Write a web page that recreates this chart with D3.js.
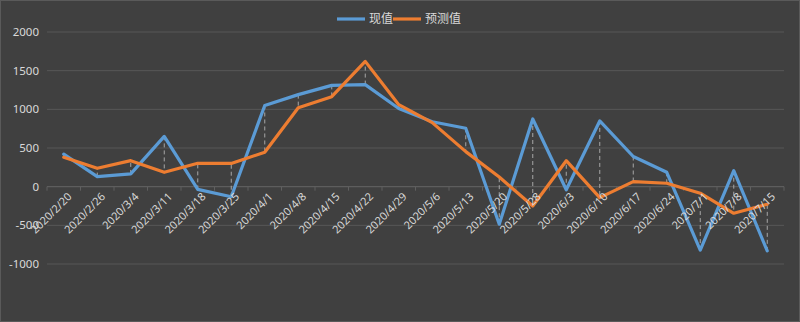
<!DOCTYPE html>
<html><head><meta charset="utf-8">
<script src="https://cdn.jsdelivr.net/npm/d3@7/dist/d3.min.js"></script>
<style>body{margin:0;background:#404040;}svg{display:block;}</style>
</head><body>
<script>
const categories = ["2020/2/20","2020/2/26","2020/3/4","2020/3/11","2020/3/18","2020/3/25","2020/4/1","2020/4/8","2020/4/15","2020/4/22","2020/4/29","2020/5/6","2020/5/13","2020/5/20","2020/5/28","2020/6/3","2020/6/10","2020/6/17","2020/6/24","2020/7/1","2020/7/8","2020/7/15"];
const actual = [420,130,165,650,-35,-130,1050,1190,1310,1320,1010,840,755,-485,875,-40,850,390,186,-820,207,-830];
const forecast = [380,238,336,186,302,300,445,1020,1164,1620,1060,828,453,125,-250,336,-142,65,44,-85,-344,-228];
const yTicks = [-1000,-500,0,500,1000,1500,2000];
const seriesNames = ["现值","预测值"];
const colors = ["#5b9bd5","#ed7d31"];

const W=800,H=322;
const svg=d3.select("body").append("svg").attr("width",W).attr("height",H);
svg.append("rect").attr("x",0.5).attr("y",0.5).attr("width",W-1).attr("height",H-1).attr("fill","#404040").attr("stroke","#5a5a5a");

const x=d3.scaleBand().domain(categories).range([47,784]);
const y=d3.scaleLinear().domain([-1000,2000]).range([264,32]);
const font="'Noto Sans', 'Liberation Sans', sans-serif";

// gridlines
svg.append("g").selectAll("line").data(yTicks).join("line")
 .attr("x1",47).attr("x2",784).attr("y1",d=>y(d)).attr("y2",d=>y(d))
 .attr("stroke","#575757").attr("stroke-width",1);

// y labels
svg.append("g").selectAll("text").data(yTicks).join("text")
 .attr("x",39).attr("y",d=>y(d)).attr("dy","0.35em").attr("text-anchor","end")
 .attr("fill","#d9d9d9").attr("font-family",font).attr("font-size",11.5).text(d=>d);

// x axis at 0
const xg=svg.append("g").attr("transform",`translate(0,${y(0)})`);
xg.append("line").attr("x1",47).attr("x2",784).attr("stroke","#5f5f5f");
const tickPos=categories.map(c=>x(c)).concat([784]);
xg.selectAll("line.t").data(tickPos).join("line").attr("class","t")
 .attr("x1",d=>d).attr("x2",d=>d).attr("y1",0).attr("y2",4).attr("stroke","#5f5f5f");

// drop lines
const cx=c=>x(c)+x.bandwidth()/2;
svg.append("g").selectAll("line").data(categories).join("line")
 .attr("x1",cx).attr("x2",cx)
 .attr("y1",(c,i)=>y(actual[i])).attr("y2",(c,i)=>y(forecast[i]))
 .attr("stroke","#a6a6a6").attr("stroke-width",1).attr("stroke-dasharray","4,3");

// lines
const line=d3.line().x((d,i)=>cx(categories[i])).y(d=>y(d));
[actual,forecast].forEach((s,k)=>{
 svg.append("path").datum(s).attr("d",line).attr("fill","none")
  .attr("stroke",colors[k]).attr("stroke-width",3.2).attr("stroke-linejoin","round").attr("stroke-linecap","round");
});

// x labels
svg.append("g").selectAll("text").data(categories).join("text")
 .attr("transform",c=>`translate(${cx(c)+6},${y(0)+8}) rotate(-45)`)
 .attr("text-anchor","end").attr("fill","#d9d9d9").attr("font-family",font).attr("font-size",11)
 .attr("dy","0.35em")
 .text(c=>c);

// legend
const leg=[{x:337,name:seriesNames[0],c:colors[0]},{x:393,name:seriesNames[1],c:colors[1]}];
leg.forEach(l=>{
 svg.append("line").attr("x1",l.x).attr("x2",l.x+28).attr("y1",19).attr("y2",19).attr("stroke",l.c).attr("stroke-width",3.2);
 svg.append("text").attr("x",l.x+32).attr("y",19).attr("dy","0.35em").attr("fill","#d9d9d9")
  .attr("font-family","'Noto Sans CJK SC', sans-serif").attr("font-size",12).text(l.name);
});
</script>
</body></html>
